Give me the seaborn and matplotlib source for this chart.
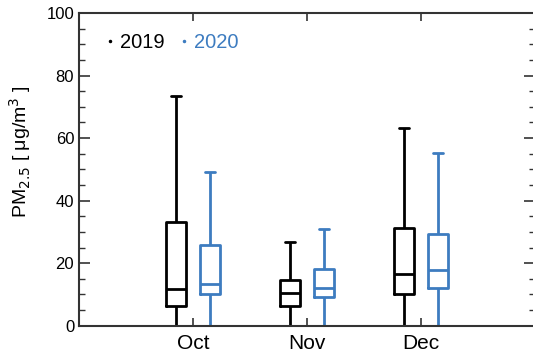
import numpy as np
import pandas as pd
import matplotlib
matplotlib.use("Agg")
import matplotlib.pyplot as plt
from matplotlib.lines import Line2D
from matplotlib.ticker import MultipleLocator
import seaborn as sns

months = ["Oct", "Nov", "Dec"]
years = ["2019", "2020"]
# five-number summaries: min, q1, median, q3, max
oct_2019 = [0.0, 6.4, 11.8, 33.3, 73.6]
oct_2020 = [0.0, 10.0, 13.4, 25.8, 49.2]
nov_2019 = [0.0, 6.2, 10.4, 14.6, 26.7]
nov_2020 = [0.0, 9.3, 12.2, 18.0, 30.8]
dec_2019 = [0.0, 10.0, 16.5, 31.3, 63.3]
dec_2020 = [0.0, 12.0, 17.7, 29.4, 55.1]
colors = ["#000000", "#3d7cc0"]

summaries = {
    ("Oct", "2019"): oct_2019, ("Oct", "2020"): oct_2020,
    ("Nov", "2019"): nov_2019, ("Nov", "2020"): nov_2020,
    ("Dec", "2019"): dec_2019, ("Dec", "2020"): dec_2020,
}
rows = []
for (m, y), vals in summaries.items():
    for v in vals:
        rows.append({"month": m, "year": y, "value": v})
df = pd.DataFrame(rows)

sns.set_style("ticks")
plt.rcParams["font.family"] = ["Liberation Sans", "DejaVu Sans"]
plt.rcParams["text.color"] = "black"
plt.rcParams["xtick.color"] = "black"
plt.rcParams["ytick.color"] = "black"
plt.rcParams["axes.labelcolor"] = "black"

fig = plt.figure(figsize=(5.33, 3.57), dpi=100)
ax = fig.add_axes([79 / 533, 1 - 325.7 / 357, (535 - 79) / 533, (325.7 - 13) / 357])

sns.boxplot(data=df, x="month", y="value", hue="year", order=months,
            hue_order=years, palette=colors, fill=False, whis=(0, 100),
            width=0.6, gap=0.42, linewidth=2.0, legend=False, ax=ax)

ax.set_xlim(-1, 3)
ax.set_ylim(0, 100)
ax.set_xlabel("")
ax.set_ylabel("PM$_{2.5}$ [ μg/m$^3$ ]", fontsize=14)
ax.yaxis.set_label_coords(-0.10, 0.555)

ax.yaxis.set_major_locator(MultipleLocator(20))
ax.yaxis.set_minor_locator(MultipleLocator(5))
ax.tick_params(axis="both", which="major", direction="in",
               top=True, right=True, color="#333333", width=1.2)
ax.tick_params(axis="y", which="major", length=8, labelsize=12)
ax.tick_params(axis="x", which="major", length=6, pad=6, labelsize=15)
ax.tick_params(axis="y", which="minor", direction="in", length=4, right=True,
               left=True, width=1.0, color="#333333")
for s in ax.spines.values():
    s.set_visible(True)
    s.set_linewidth(1.5)
    s.set_color("#333333")

handles = [Line2D([], [], linestyle="none", marker=".", markersize=3, color=c)
           for c in colors]
leg = ax.legend(handles, years, loc="upper left", ncol=2, frameon=False,
                fontsize=14.5, handlelength=0.4, handletextpad=0.3,
                columnspacing=0.75, bbox_to_anchor=(0.02, 0.995))
for t, c in zip(leg.get_texts(), colors):
    t.set_color(c)

fig.savefig("out.png", dpi=100)
